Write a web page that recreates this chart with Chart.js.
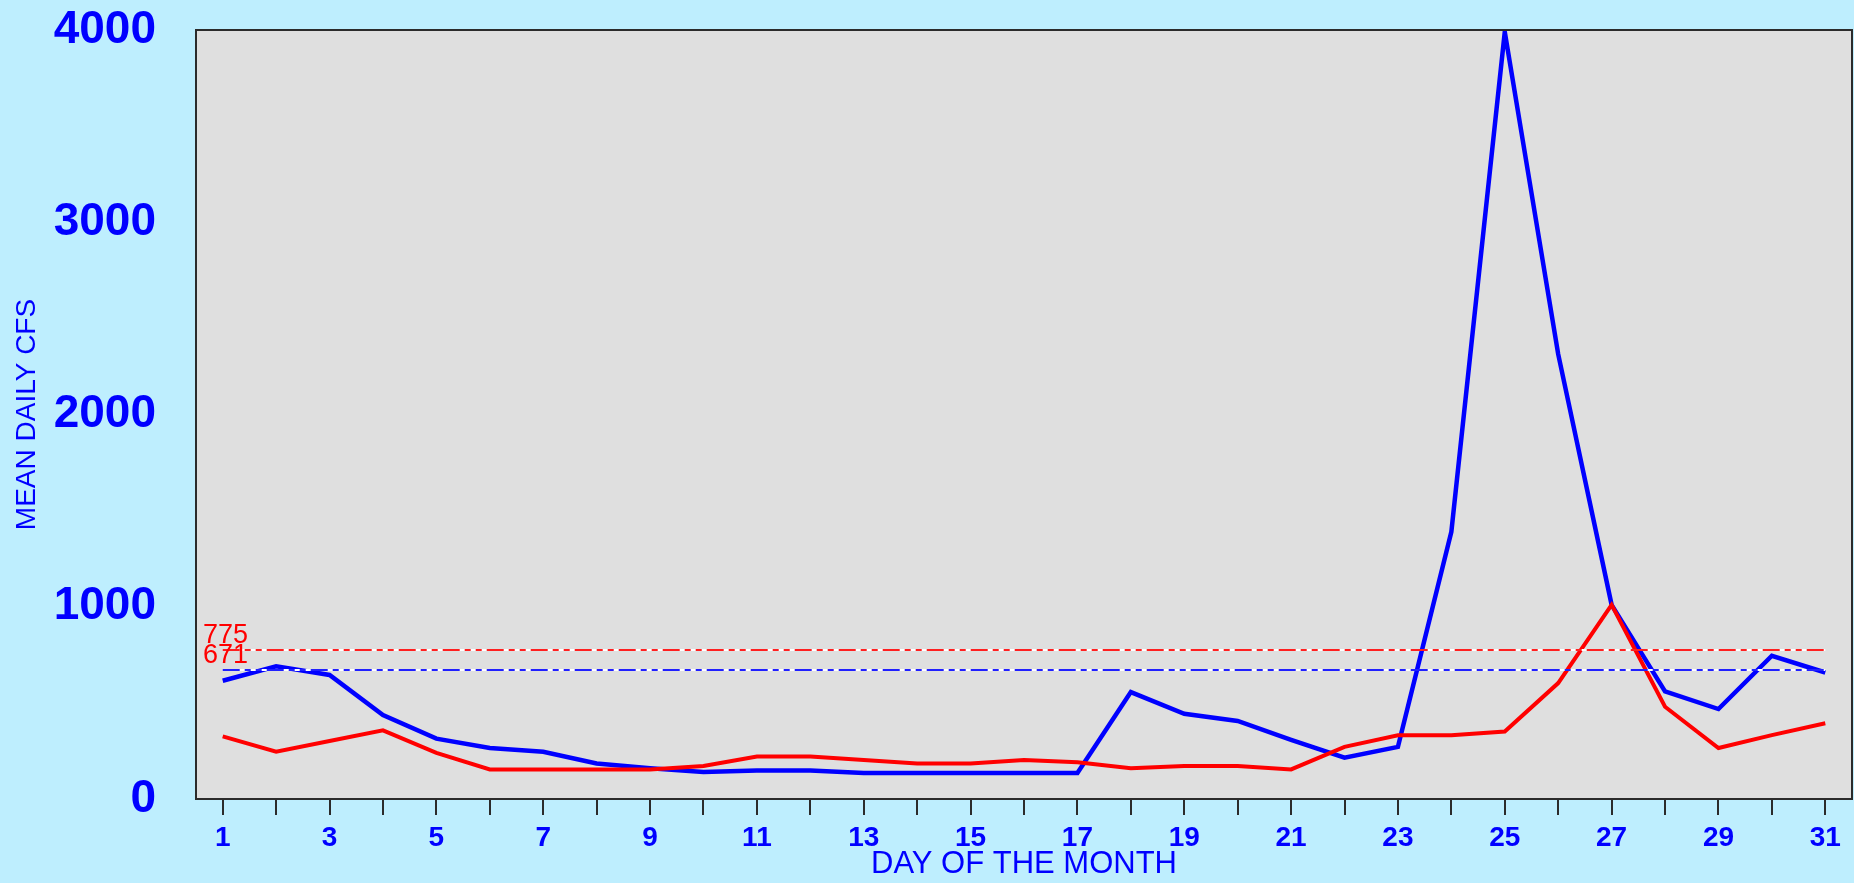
<!DOCTYPE html>
<html>
<head>
<meta charset="utf-8">
<script src="https://cdn.jsdelivr.net/npm/chart.js@4"></script>
<style>
  html, body { margin: 0; padding: 0; background: #BEEEFE; overflow: hidden; }
  canvas { display: block; }
</style>
</head>
<body>
<canvas id="flow" width="1854" height="883"></canvas>
<script>
// дни месяца и расходы (cfs)
const days = [1, 2, 3, 4, 5, 6, 7, 8, 9, 10, 11, 12, 13, 14, 15, 16, 17, 18, 19, 20, 21, 22, 23, 24, 25, 26, 27, 28, 29, 30, 31];
const flowBlue = [615, 690, 645, 437, 314, 265, 246, 185, 160, 141, 148, 148, 135, 135, 135, 135, 135, 556, 443, 406, 308, 215, 271, 1390, 3990, 2314, 1010, 560, 468, 745, 658];
const flowRed = [326, 246, 302, 357, 240, 154, 154, 154, 154, 172, 221, 221, 203, 185, 185, 203, 191, 160, 172, 172, 154, 271, 332, 332, 351, 603, 1010, 480, 265, 332, 394];
const meanBlue = 671;
const meanRed = 775;
const yTicks = [0, 1000, 2000, 3000, 4000];
const xLabels = [1, 3, 5, 7, 9, 11, 13, 15, 17, 19, 21, 23, 25, 27, 29, 31];

const dashPattern = [17, 5, 6, 5, 6, 5];

function points(values) {
  return days.map((d, i) => ({ x: d, y: values[i] }));
}
function flat(v) {
  return days.map(d => ({ x: d, y: v }));
}

// фон и рамка области графика, подписи средних
const frame = {
  id: 'frame',
  beforeDraw(chart) {
    const { ctx, chartArea: a } = chart;
    ctx.save();
    ctx.fillStyle = '#BEEEFE';
    ctx.fillRect(0, 0, chart.width, chart.height);
    ctx.fillStyle = '#DFDFDF';
    ctx.fillRect(a.left, a.top, a.right - a.left, a.bottom - a.top);
    ctx.restore();
  },
  afterDraw(chart) {
    const { ctx, chartArea: a } = chart;
    const y = chart.scales.y;
    ctx.save();
    ctx.strokeStyle = '#2b2b2b';
    ctx.lineWidth = 2;
    ctx.strokeRect(a.left, a.top, a.right - a.left, a.bottom - a.top);
    ctx.fillStyle = '#FF0000';
    ctx.font = '27px "Liberation Sans Narrow", "Liberation Sans", sans-serif';
    ctx.textBaseline = 'alphabetic';
    ctx.fillText(String(meanRed), a.left + 7, y.getPixelForValue(meanRed) - 7);
    ctx.fillText(String(meanBlue), a.left + 7, y.getPixelForValue(meanBlue) - 7);
    ctx.restore();
  }
};

new Chart(document.getElementById('flow').getContext('2d'), {
  type: 'line',
  data: {
    datasets: [
      { data: flat(meanRed), borderColor: '#FF2020', borderWidth: 2, borderDash: dashPattern, order: 0 },
      { data: flat(meanBlue), borderColor: '#2020FF', borderWidth: 2, borderDash: dashPattern, order: 0 },
      { data: flat(meanRed), borderColor: '#FFFFFF', borderWidth: 2, order: 1 },
      { data: flat(meanBlue), borderColor: '#FFFFFF', borderWidth: 2, order: 1 },
      { data: points(flowRed), borderColor: '#FF0000', borderWidth: 4, order: 2 },
      { data: points(flowBlue), borderColor: '#0000FF', borderWidth: 4.5, order: 3 }
    ]
  },
  options: {
    responsive: false,
    animation: false,
    devicePixelRatio: 1,
    layout: { padding: { top: 30, right: 2, left: 0, bottom: 0 } },
    elements: {
      point: { radius: 0 },
      line: { tension: 0, borderCapStyle: 'butt' }
    },
    plugins: {
      legend: { display: false },
      tooltip: { enabled: false }
    },
    scales: {
      x: {
        type: 'linear',
        min: 0.5,
        max: 31.5,
        afterBuildTicks: s => { s.ticks = days.map(v => ({ value: v })); },
        afterFit: s => { s.height = 84; s.paddingLeft = 0; s.paddingRight = 0; },
        border: { display: false },
        grid: { drawOnChartArea: false, drawTicks: true, tickLength: 16, color: '#2b2b2b', lineWidth: 2 },
        ticks: {
          autoSkip: false,
          maxRotation: 0,
          padding: 6,
          color: '#0000FF',
          font: { family: '"Liberation Sans", Arial, sans-serif', size: 28, weight: 'bold' },
          callback: v => xLabels.includes(v) ? String(v) : ''
        },
        title: {
          display: true,
          text: 'DAY OF THE MONTH',
          color: '#0000FF',
          padding: 0,
          font: { family: '"Liberation Sans", Arial, sans-serif', size: 31 }
        }
      },
      y: {
        min: 0,
        max: 4000,
        afterBuildTicks: s => { s.ticks = yTicks.map(v => ({ value: v })); },
        afterFit: s => { s.width = 196; s.paddingTop = 0; s.paddingBottom = 0; },
        border: { display: false },
        grid: { display: false, drawTicks: false },
        ticks: {
          padding: 40,
          color: '#0000FF',
          font: { family: '"Liberation Sans", Arial, sans-serif', size: 46, weight: 'bold' },
          callback: v => String(v)
        },
        title: {
          display: true,
          text: 'MEAN DAILY CFS',
          color: '#0000FF',
          padding: { top: 10, bottom: 0 },
          font: { family: '"Liberation Sans", Arial, sans-serif', size: 28 }
        }
      }
    }
  },
  plugins: [frame]
});
</script>
</body>
</html>
